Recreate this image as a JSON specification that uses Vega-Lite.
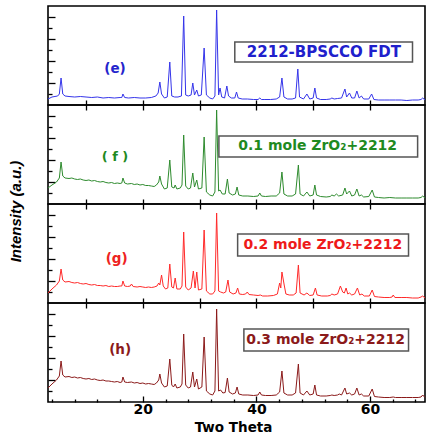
{
"$schema": "https://vega.github.io/schema/vega-lite/v6.json",
"background": "white",
"padding": {"left": 7, "top": 5, "right": 5, "bottom": 3},
"spacing": 0,
"bounds": "flush",
"config": {"view": {"stroke": "black", "strokeWidth": 1.6}, "axis": {"tickColor": "black", "tickWidth": 1.3, "domain": false, "grid": false}},
"datasets": {
"e": [{"x":3.3,"y":6},{"x":4.0,"y":8},{"x":5.0,"y":9},{"x":5.3,"y":11},{"x":5.6,"y":27},{"x":5.9,"y":11},{"x":6.3,"y":9},{"x":7,"y":8.5},{"x":8,"y":8},{"x":9,"y":8.5},{"x":10,"y":8},{"x":11,"y":7.5},{"x":12,"y":8},{"x":13,"y":7},{"x":14,"y":7.5},{"x":15,"y":7},{"x":16,"y":7.5},{"x":16.3,"y":7.5},{"x":16.5,"y":11},{"x":16.8,"y":7.5},{"x":17.5,"y":7},{"x":18.5,"y":7.5},{"x":19.5,"y":7},{"x":20.5,"y":7},{"x":21.5,"y":7.5},{"x":22.3,"y":9},{"x":22.7,"y":12},{"x":23.0,"y":23},{"x":23.3,"y":11},{"x":23.8,"y":7},{"x":24.3,"y":8},{"x":24.75,"y":43},{"x":25.1,"y":9},{"x":25.6,"y":8},{"x":26.2,"y":8},{"x":26.8,"y":9},{"x":27.2,"y":89},{"x":27.55,"y":10},{"x":28.0,"y":9},{"x":28.5,"y":10},{"x":28.8,"y":22},{"x":29.1,"y":10},{"x":29.5,"y":15},{"x":29.8,"y":9},{"x":30.3,"y":10},{"x":30.8,"y":57},{"x":31.2,"y":10},{"x":31.8,"y":7},{"x":32.3,"y":6},{"x":32.7,"y":9},{"x":33.0,"y":95},{"x":33.35,"y":10},{"x":33.6,"y":17},{"x":33.9,"y":8},{"x":34.4,"y":7},{"x":34.8,"y":19},{"x":35.1,"y":9},{"x":35.6,"y":7},{"x":36.2,"y":7},{"x":36.5,"y":13},{"x":36.8,"y":7},{"x":37.5,"y":6},{"x":38.4,"y":6},{"x":39.5,"y":5.5},{"x":40.3,"y":5.5},{"x":40.6,"y":7},{"x":40.9,"y":5.5},{"x":41.5,"y":5.5},{"x":42.5,"y":5.5},{"x":43.5,"y":6},{"x":44.1,"y":8},{"x":44.5,"y":27},{"x":44.85,"y":8},{"x":45.5,"y":6},{"x":46.3,"y":6},{"x":46.9,"y":7},{"x":47.3,"y":36},{"x":47.6,"y":8},{"x":48.3,"y":6},{"x":48.9,"y":11},{"x":49.4,"y":6},{"x":50.0,"y":7},{"x":50.3,"y":17},{"x":50.6,"y":7},{"x":51.3,"y":5.5},{"x":52.3,"y":5.5},{"x":53.0,"y":6},{"x":53.3,"y":7},{"x":53.7,"y":6},{"x":54.3,"y":6.5},{"x":55.0,"y":7},{"x":55.6,"y":16},{"x":55.9,"y":8},{"x":56.4,"y":12},{"x":56.8,"y":7},{"x":57.3,"y":7},{"x":57.7,"y":14},{"x":58.1,"y":7},{"x":58.5,"y":9},{"x":58.9,"y":6},{"x":59.8,"y":6},{"x":60.3,"y":11},{"x":60.7,"y":5.5},{"x":61.5,"y":5},{"x":62.5,"y":5},{"x":63.5,"y":5},{"x":64.5,"y":5},{"x":65.5,"y":5},{"x":66.5,"y":4.5},{"x":67.5,"y":5},{"x":68.5,"y":5},{"x":69.0,"y":5.5},{"x":69.3,"y":7},{"x":69.7,"y":5}],
"f": [{"x":3.3,"y":16},{"x":4.0,"y":19},{"x":4.8,"y":22},{"x":5.3,"y":26},{"x":5.6,"y":42},{"x":5.9,"y":28},{"x":6.3,"y":26},{"x":7,"y":25.5},{"x":7.5,"y":26},{"x":8,"y":25},{"x":8.5,"y":24.5},{"x":9,"y":25},{"x":9.5,"y":24},{"x":10,"y":23.5},{"x":10.5,"y":24},{"x":11,"y":23},{"x":11.5,"y":23.5},{"x":12,"y":22.5},{"x":12.5,"y":22},{"x":13,"y":22.5},{"x":13.5,"y":21.5},{"x":14,"y":21},{"x":14.5,"y":21.5},{"x":15,"y":20.5},{"x":15.5,"y":21},{"x":16,"y":20.5},{"x":16.3,"y":21},{"x":16.5,"y":26},{"x":16.8,"y":21},{"x":17.3,"y":20},{"x":18,"y":20.5},{"x":18.5,"y":19.5},{"x":19,"y":20},{"x":19.5,"y":19},{"x":20,"y":19.5},{"x":20.5,"y":18.5},{"x":21,"y":18.5},{"x":21.5,"y":18},{"x":22,"y":17.5},{"x":22.4,"y":19},{"x":22.8,"y":22},{"x":23.0,"y":28},{"x":23.3,"y":20},{"x":23.8,"y":15},{"x":24.3,"y":16},{"x":24.75,"y":44},{"x":25.1,"y":17},{"x":25.5,"y":16},{"x":25.7,"y":19},{"x":26.0,"y":15},{"x":26.6,"y":16},{"x":26.9,"y":19},{"x":27.2,"y":69},{"x":27.55,"y":18},{"x":28.0,"y":15},{"x":28.4,"y":16},{"x":28.8,"y":31},{"x":29.1,"y":17},{"x":29.5,"y":24},{"x":29.8,"y":15},{"x":30.4,"y":16},{"x":30.8,"y":67},{"x":31.2,"y":12},{"x":31.8,"y":9},{"x":32.3,"y":8},{"x":32.7,"y":12},{"x":33.0,"y":94},{"x":33.35,"y":13},{"x":33.6,"y":14},{"x":34.0,"y":10},{"x":34.5,"y":10},{"x":34.9,"y":25},{"x":35.2,"y":11},{"x":35.8,"y":9},{"x":36.3,"y":10},{"x":36.6,"y":17},{"x":36.9,"y":9},{"x":37.6,"y":8},{"x":38.5,"y":8},{"x":39.5,"y":7.5},{"x":40.3,"y":8},{"x":40.6,"y":11},{"x":40.9,"y":8},{"x":41.6,"y":7.5},{"x":42.6,"y":8},{"x":43.5,"y":8},{"x":44.1,"y":11},{"x":44.5,"y":32},{"x":44.85,"y":10},{"x":45.5,"y":8},{"x":46.3,"y":8},{"x":46.9,"y":10},{"x":47.4,"y":39},{"x":47.7,"y":10},{"x":48.3,"y":8},{"x":48.9,"y":12},{"x":49.4,"y":8},{"x":50.0,"y":9},{"x":50.3,"y":19},{"x":50.6,"y":9},{"x":51.3,"y":7.5},{"x":52.3,"y":7},{"x":53.0,"y":7.5},{"x":53.3,"y":9},{"x":53.7,"y":8},{"x":54.1,"y":10},{"x":54.5,"y":8},{"x":55.2,"y":9},{"x":55.6,"y":16},{"x":55.9,"y":10},{"x":56.4,"y":13},{"x":56.8,"y":8},{"x":57.3,"y":9},{"x":57.7,"y":15},{"x":58.1,"y":8},{"x":58.5,"y":9},{"x":58.9,"y":7},{"x":59.8,"y":7.5},{"x":60.4,"y":14},{"x":60.8,"y":7},{"x":61.5,"y":6.5},{"x":62.5,"y":6},{"x":63.5,"y":6.5},{"x":64.5,"y":6},{"x":65.5,"y":6},{"x":66.5,"y":6},{"x":67.5,"y":6},{"x":68.5,"y":6},{"x":69.0,"y":6.5},{"x":69.3,"y":8},{"x":69.7,"y":6}],
"g": [{"x":3.3,"y":10},{"x":4.0,"y":14},{"x":4.8,"y":18},{"x":5.3,"y":22},{"x":5.6,"y":34},{"x":5.9,"y":23},{"x":6.3,"y":21},{"x":7,"y":21.5},{"x":7.5,"y":20.5},{"x":8,"y":20},{"x":8.5,"y":20.5},{"x":9,"y":19.5},{"x":9.5,"y":19},{"x":10,"y":19.5},{"x":10.5,"y":18.5},{"x":11,"y":18},{"x":11.5,"y":18.5},{"x":12,"y":17.5},{"x":12.5,"y":17.5},{"x":13,"y":17},{"x":13.5,"y":17.5},{"x":14,"y":16.5},{"x":14.5,"y":17},{"x":15,"y":16.5},{"x":15.5,"y":16.5},{"x":16,"y":17},{"x":16.3,"y":17},{"x":16.5,"y":22},{"x":16.8,"y":17},{"x":17.3,"y":16.5},{"x":17.8,"y":17},{"x":18.0,"y":19},{"x":18.3,"y":16.5},{"x":19,"y":16},{"x":19.5,"y":16.5},{"x":20,"y":16},{"x":20.5,"y":15.5},{"x":21,"y":16},{"x":21.5,"y":15.5},{"x":22,"y":16},{"x":22.5,"y":17},{"x":22.8,"y":20},{"x":23.0,"y":18},{"x":23.3,"y":28},{"x":23.6,"y":17},{"x":24.0,"y":14},{"x":24.4,"y":15},{"x":24.75,"y":39},{"x":25.1,"y":16},{"x":25.4,"y":15},{"x":25.7,"y":25},{"x":26.0,"y":14},{"x":26.6,"y":14},{"x":26.9,"y":17},{"x":27.2,"y":71},{"x":27.55,"y":16},{"x":28.0,"y":13},{"x":28.5,"y":15},{"x":28.9,"y":32},{"x":29.2,"y":15},{"x":29.5,"y":31},{"x":29.8,"y":13},{"x":30.4,"y":14},{"x":30.8,"y":73},{"x":31.2,"y":12},{"x":31.8,"y":9},{"x":32.3,"y":9},{"x":32.7,"y":12},{"x":33.0,"y":90},{"x":33.35,"y":12},{"x":33.7,"y":11},{"x":34.2,"y":10},{"x":34.6,"y":11},{"x":35.0,"y":23},{"x":35.3,"y":11},{"x":35.9,"y":9},{"x":36.4,"y":10},{"x":36.7,"y":15},{"x":37.0,"y":9},{"x":37.6,"y":8.5},{"x":38.1,"y":9},{"x":38.4,"y":11},{"x":38.7,"y":8.5},{"x":39.5,"y":8},{"x":40.3,"y":7.5},{"x":40.7,"y":8},{"x":41.1,"y":7},{"x":42,"y":7},{"x":43,"y":7.5},{"x":43.7,"y":9},{"x":44.1,"y":20},{"x":44.3,"y":15},{"x":44.5,"y":31},{"x":44.9,"y":18},{"x":45.2,"y":9},{"x":45.8,"y":8},{"x":46.5,"y":8},{"x":47.0,"y":10},{"x":47.4,"y":38},{"x":47.7,"y":10},{"x":48.4,"y":8},{"x":48.9,"y":10},{"x":49.4,"y":7.5},{"x":50.0,"y":8},{"x":50.4,"y":15},{"x":50.7,"y":8},{"x":51.5,"y":7},{"x":52.5,"y":7},{"x":53.0,"y":7.5},{"x":53.3,"y":9},{"x":53.7,"y":8},{"x":54.3,"y":9},{"x":54.8,"y":17},{"x":55.2,"y":11},{"x":55.5,"y":10},{"x":55.8,"y":15},{"x":56.1,"y":9},{"x":56.4,"y":10},{"x":56.8,"y":8},{"x":57.3,"y":9},{"x":57.8,"y":15},{"x":58.2,"y":8},{"x":58.6,"y":9},{"x":59.0,"y":7},{"x":59.9,"y":7},{"x":60.4,"y":13},{"x":60.8,"y":6.5},{"x":61.5,"y":6},{"x":62.5,"y":5.5},{"x":63.5,"y":5.5},{"x":63.9,"y":6},{"x":64.1,"y":8},{"x":64.4,"y":5.5},{"x":65.5,"y":5.5},{"x":66.5,"y":5.5},{"x":67.5,"y":5},{"x":68.5,"y":5},{"x":69.0,"y":6},{"x":69.3,"y":7},{"x":69.7,"y":5}],
"h": [{"x":3.3,"y":14},{"x":4.0,"y":18},{"x":4.8,"y":22},{"x":5.3,"y":26},{"x":5.6,"y":41},{"x":5.9,"y":27},{"x":6.3,"y":25},{"x":7,"y":25.5},{"x":7.5,"y":24.5},{"x":8,"y":25},{"x":8.5,"y":24},{"x":9,"y":24.5},{"x":9.5,"y":23.5},{"x":10,"y":23},{"x":10.5,"y":23.5},{"x":11,"y":22.5},{"x":11.5,"y":23},{"x":12,"y":22},{"x":12.5,"y":21.5},{"x":13,"y":22},{"x":13.5,"y":21},{"x":14,"y":21},{"x":14.5,"y":20.5},{"x":15,"y":20},{"x":15.5,"y":20.5},{"x":16,"y":19.5},{"x":16.3,"y":20},{"x":16.5,"y":25},{"x":16.8,"y":20},{"x":17.3,"y":19.5},{"x":18,"y":20},{"x":18.5,"y":19},{"x":19,"y":19.5},{"x":19.5,"y":18.5},{"x":20,"y":19},{"x":20.5,"y":18},{"x":21,"y":18.5},{"x":21.5,"y":18},{"x":22,"y":17.5},{"x":22.4,"y":19},{"x":22.8,"y":22},{"x":23.0,"y":28},{"x":23.3,"y":19},{"x":23.8,"y":15},{"x":24.3,"y":16},{"x":24.75,"y":43},{"x":25.1,"y":17},{"x":25.4,"y":15},{"x":25.7,"y":18},{"x":26.0,"y":14},{"x":26.6,"y":15},{"x":26.9,"y":18},{"x":27.2,"y":68},{"x":27.55,"y":17},{"x":28.0,"y":14},{"x":28.4,"y":15},{"x":28.8,"y":30},{"x":29.1,"y":15},{"x":29.5,"y":23},{"x":29.8,"y":13},{"x":30.4,"y":15},{"x":30.8,"y":65},{"x":31.2,"y":11},{"x":31.8,"y":8},{"x":32.3,"y":7},{"x":32.7,"y":11},{"x":33.0,"y":93},{"x":33.35,"y":11},{"x":33.7,"y":12},{"x":34.1,"y":9},{"x":34.5,"y":9.5},{"x":34.9,"y":24},{"x":35.2,"y":10},{"x":35.8,"y":8},{"x":36.3,"y":9},{"x":36.6,"y":15},{"x":36.9,"y":8},{"x":37.6,"y":7},{"x":38.5,"y":7},{"x":39.5,"y":6.5},{"x":40.3,"y":7},{"x":40.6,"y":10},{"x":40.9,"y":7},{"x":41.6,"y":6.5},{"x":42.6,"y":6.5},{"x":43.5,"y":7},{"x":44.1,"y":10},{"x":44.5,"y":31},{"x":44.85,"y":9},{"x":45.5,"y":7},{"x":46.3,"y":7},{"x":46.9,"y":9},{"x":47.4,"y":38},{"x":47.7,"y":9},{"x":48.3,"y":7},{"x":48.9,"y":11},{"x":49.4,"y":7},{"x":50.0,"y":8},{"x":50.3,"y":17},{"x":50.6,"y":7},{"x":51.3,"y":6},{"x":52.3,"y":6},{"x":53.0,"y":6.5},{"x":53.3,"y":7},{"x":53.7,"y":6.5},{"x":54.3,"y":7},{"x":54.6,"y":8},{"x":55.0,"y":7},{"x":55.6,"y":14},{"x":55.9,"y":8},{"x":56.4,"y":9},{"x":56.8,"y":7},{"x":57.3,"y":8},{"x":57.7,"y":14},{"x":58.1,"y":7},{"x":58.5,"y":8},{"x":58.9,"y":6},{"x":59.8,"y":6},{"x":60.4,"y":13},{"x":60.8,"y":5.5},{"x":61.5,"y":5},{"x":62.5,"y":4.5},{"x":63.5,"y":4.5},{"x":64.1,"y":5},{"x":64.5,"y":4.5},{"x":65.5,"y":4.5},{"x":66.5,"y":4.5},{"x":67.5,"y":4.5},{"x":68.5,"y":4.5},{"x":69.0,"y":5},{"x":69.3,"y":7},{"x":69.7,"y":4.5}]
},
"vconcat": [
{
"width": 377, "height": 99,
"resolve": {"axis": {"x": "independent", "y": "independent"}},
"layer": [
{"data": {"name": "e"}, "mark": {"type": "line", "color": "#3535ea", "strokeWidth": 1},
 "encoding": {
  "x": {"field": "x", "type": "quantitative", "scale": {"domain": [3.3, 69.7], "nice": false, "zero": false}, "axis": {"values": [10,20,30,40,50,60], "labels": false, "title": null, "tickSize": -5}},
  "y": {"field": "y", "type": "quantitative", "scale": {"domain": [0, 99], "nice": false}, "axis": {"values": [11,22,33,44,55,66,77,88], "labels": false, "title": null, "tickSize": {"condition": {"test": "datum.value % 22 === 0", "value": -7}, "value": -4}}}}},
{"data": {"values": [{}]}, "mark": {"type": "rect", "fill": "white", "stroke": "#555555", "strokeWidth": 1.5},
 "encoding": {"x": {"datum": 36.2, "axis": null}, "x2": {"datum": 67.5}, "y": {"datum": 63, "axis": null}, "y2": {"datum": 43}}},
{"data": {"values": [{}]}, "mark": {"type": "text", "text": "2212-BPSCCO FDT", "font": "DejaVu Sans", "fontWeight": "bold", "fontSize": 15, "color": "#2020cc", "align": "center", "baseline": "middle"},
 "encoding": {"x": {"datum": 51.9, "axis": null}, "y": {"datum": 53, "axis": null}}},
{"data": {"values": [{}]}, "mark": {"type": "text", "text": "(e)", "font": "DejaVu Sans", "fontWeight": "bold", "fontSize": 13.5, "color": "#2525cc", "align": "center", "baseline": "middle"},
 "encoding": {"x": {"datum": 15.1, "axis": null}, "y": {"datum": 36, "axis": null}}}
]},
{
"width": 377, "height": 99,
"resolve": {"axis": {"x": "independent", "y": "independent"}},
"layer": [
{"data": {"name": "f"}, "mark": {"type": "line", "color": "#2e8b2e", "strokeWidth": 1},
 "encoding": {
  "x": {"field": "x", "type": "quantitative", "scale": {"domain": [3.3, 69.7], "nice": false, "zero": false}, "axis": {"values": [10,20,30,40,50,60], "labels": false, "title": null, "tickSize": -5}},
  "y": {"field": "y", "type": "quantitative", "scale": {"domain": [0, 99], "nice": false}, "axis": {"values": [11,22,33,44,55,66,77,88], "labels": false, "title": "Intensity (a.u.)", "titleFont": "Liberation Sans", "titleFontSize": 15, "titleFontWeight": "bold", "titleFontStyle": "italic", "titleColor": "black", "titleAngle": -90, "titleAlign": "center", "titleBaseline": "middle", "titleX": -33, "titleY": 106, "tickSize": {"condition": {"test": "datum.value % 22 === 0", "value": -7}, "value": -4}}}}},
{"data": {"values": [{}]}, "mark": {"type": "rect", "fill": "white", "stroke": "#555555", "strokeWidth": 1.5},
 "encoding": {"x": {"datum": 33.4, "axis": {"orient": "top", "values": [10,20,30,40,50,60], "labels": false, "title": null, "tickSize": -5}}, "x2": {"datum": 68.4}, "y": {"datum": 68, "axis": null}, "y2": {"datum": 47}}},
{"data": {"values": [{}]}, "mark": {"type": "text", "text": "0.1 mole ZrO₂+2212", "font": "DejaVu Sans", "fontWeight": "bold", "fontSize": 14, "color": "#1f8a1f", "align": "center", "baseline": "middle"},
 "encoding": {"x": {"datum": 50.8, "axis": null}, "y": {"datum": 58, "axis": null}}},
{"data": {"values": [{}]}, "mark": {"type": "text", "text": "( f )", "font": "DejaVu Sans", "fontWeight": "bold", "fontSize": 13, "color": "#1f8a1f", "align": "center", "baseline": "middle"},
 "encoding": {"x": {"datum": 15.1, "axis": null}, "y": {"datum": 47, "axis": null}}}
]},
{
"width": 377, "height": 99,
"resolve": {"axis": {"x": "independent", "y": "independent"}},
"layer": [
{"data": {"name": "g"}, "mark": {"type": "line", "color": "#ff2a2a", "strokeWidth": 1},
 "encoding": {
  "x": {"field": "x", "type": "quantitative", "scale": {"domain": [3.3, 69.7], "nice": false, "zero": false}, "axis": {"values": [10,20,30,40,50,60], "labels": false, "title": null, "tickSize": -5}},
  "y": {"field": "y", "type": "quantitative", "scale": {"domain": [0, 99], "nice": false}, "axis": {"values": [11,22,33,44,55,66,77,88], "labels": false, "title": null, "tickSize": {"condition": {"test": "datum.value % 22 === 0", "value": -7}, "value": -4}}}}},
{"data": {"values": [{}]}, "mark": {"type": "rect", "fill": "white", "stroke": "#555555", "strokeWidth": 1.5},
 "encoding": {"x": {"datum": 36.7, "axis": {"orient": "top", "values": [10,20,30,40,50,60], "labels": false, "title": null, "tickSize": -5}}, "x2": {"datum": 66.8}, "y": {"datum": 69, "axis": null}, "y2": {"datum": 47}}},
{"data": {"values": [{}]}, "mark": {"type": "text", "text": "0.2 mole ZrO₂+2212", "font": "DejaVu Sans", "fontWeight": "bold", "fontSize": 14, "color": "#ee1a1a", "align": "center", "baseline": "middle"},
 "encoding": {"x": {"datum": 51.7, "axis": null}, "y": {"datum": 58, "axis": null}}},
{"data": {"values": [{}]}, "mark": {"type": "text", "text": "(g)", "font": "DejaVu Sans", "fontWeight": "bold", "fontSize": 13.5, "color": "#ee2222", "align": "center", "baseline": "middle"},
 "encoding": {"x": {"datum": 15.4, "axis": null}, "y": {"datum": 44, "axis": null}}}
]},
{
"width": 377, "height": 99,
"resolve": {"axis": {"x": "independent", "y": "independent"}},
"layer": [
{"data": {"name": "h"}, "mark": {"type": "line", "color": "#8b1a1a", "strokeWidth": 1},
 "encoding": {
  "x": {"field": "x", "type": "quantitative", "scale": {"domain": [3.3, 69.7], "nice": false, "zero": false}, "axis": {"values": [4,8,12,16,20,24,28,32,36,40,44,48,52,56,60,64,68], "labelExpr": "datum.value % 20 === 0 ? datum.label : ''", "labelFont": "DejaVu Sans", "labelFontWeight": "bold", "labelFontSize": 14, "labelColor": "black", "labelPadding": 6, "title": "Two Theta", "titleFont": "DejaVu Sans", "titleFontWeight": "bold", "titleFontSize": 13.5, "titleColor": "black", "titleX": 185, "titleY": 29, "titleBaseline": "alphabetic", "titleAlign": "center", "tickSize": {"condition": {"test": "datum.value % 20 === 0", "value": -6}, "value": -3}}},
  "y": {"field": "y", "type": "quantitative", "scale": {"domain": [0, 99], "nice": false}, "axis": {"values": [11,22,33,44,55,66,77,88], "labels": false, "title": null, "tickSize": {"condition": {"test": "datum.value % 22 === 0", "value": -7}, "value": -4}}}}},
{"data": {"values": [{}]}, "mark": {"type": "rect", "fill": "white", "stroke": "#555555", "strokeWidth": 1.5},
 "encoding": {"x": {"datum": 37.8, "axis": {"orient": "top", "values": [10,20,30,40,50,60], "labels": false, "title": null, "tickSize": -5}}, "x2": {"datum": 66.8}, "y": {"datum": 73, "axis": null}, "y2": {"datum": 51}}},
{"data": {"values": [{}]}, "mark": {"type": "text", "text": "0.3 mole ZrO₂+2212", "font": "DejaVu Sans", "fontWeight": "bold", "fontSize": 14, "color": "#8b1a1a", "align": "center", "baseline": "middle"},
 "encoding": {"x": {"datum": 52.2, "axis": null}, "y": {"datum": 62, "axis": null}}},
{"data": {"values": [{}]}, "mark": {"type": "text", "text": "(h)", "font": "DejaVu Sans", "fontWeight": "bold", "fontSize": 13.5, "color": "#8b1a1a", "align": "center", "baseline": "middle"},
 "encoding": {"x": {"datum": 16, "axis": null}, "y": {"datum": 52, "axis": null}}}
]}
]
}
